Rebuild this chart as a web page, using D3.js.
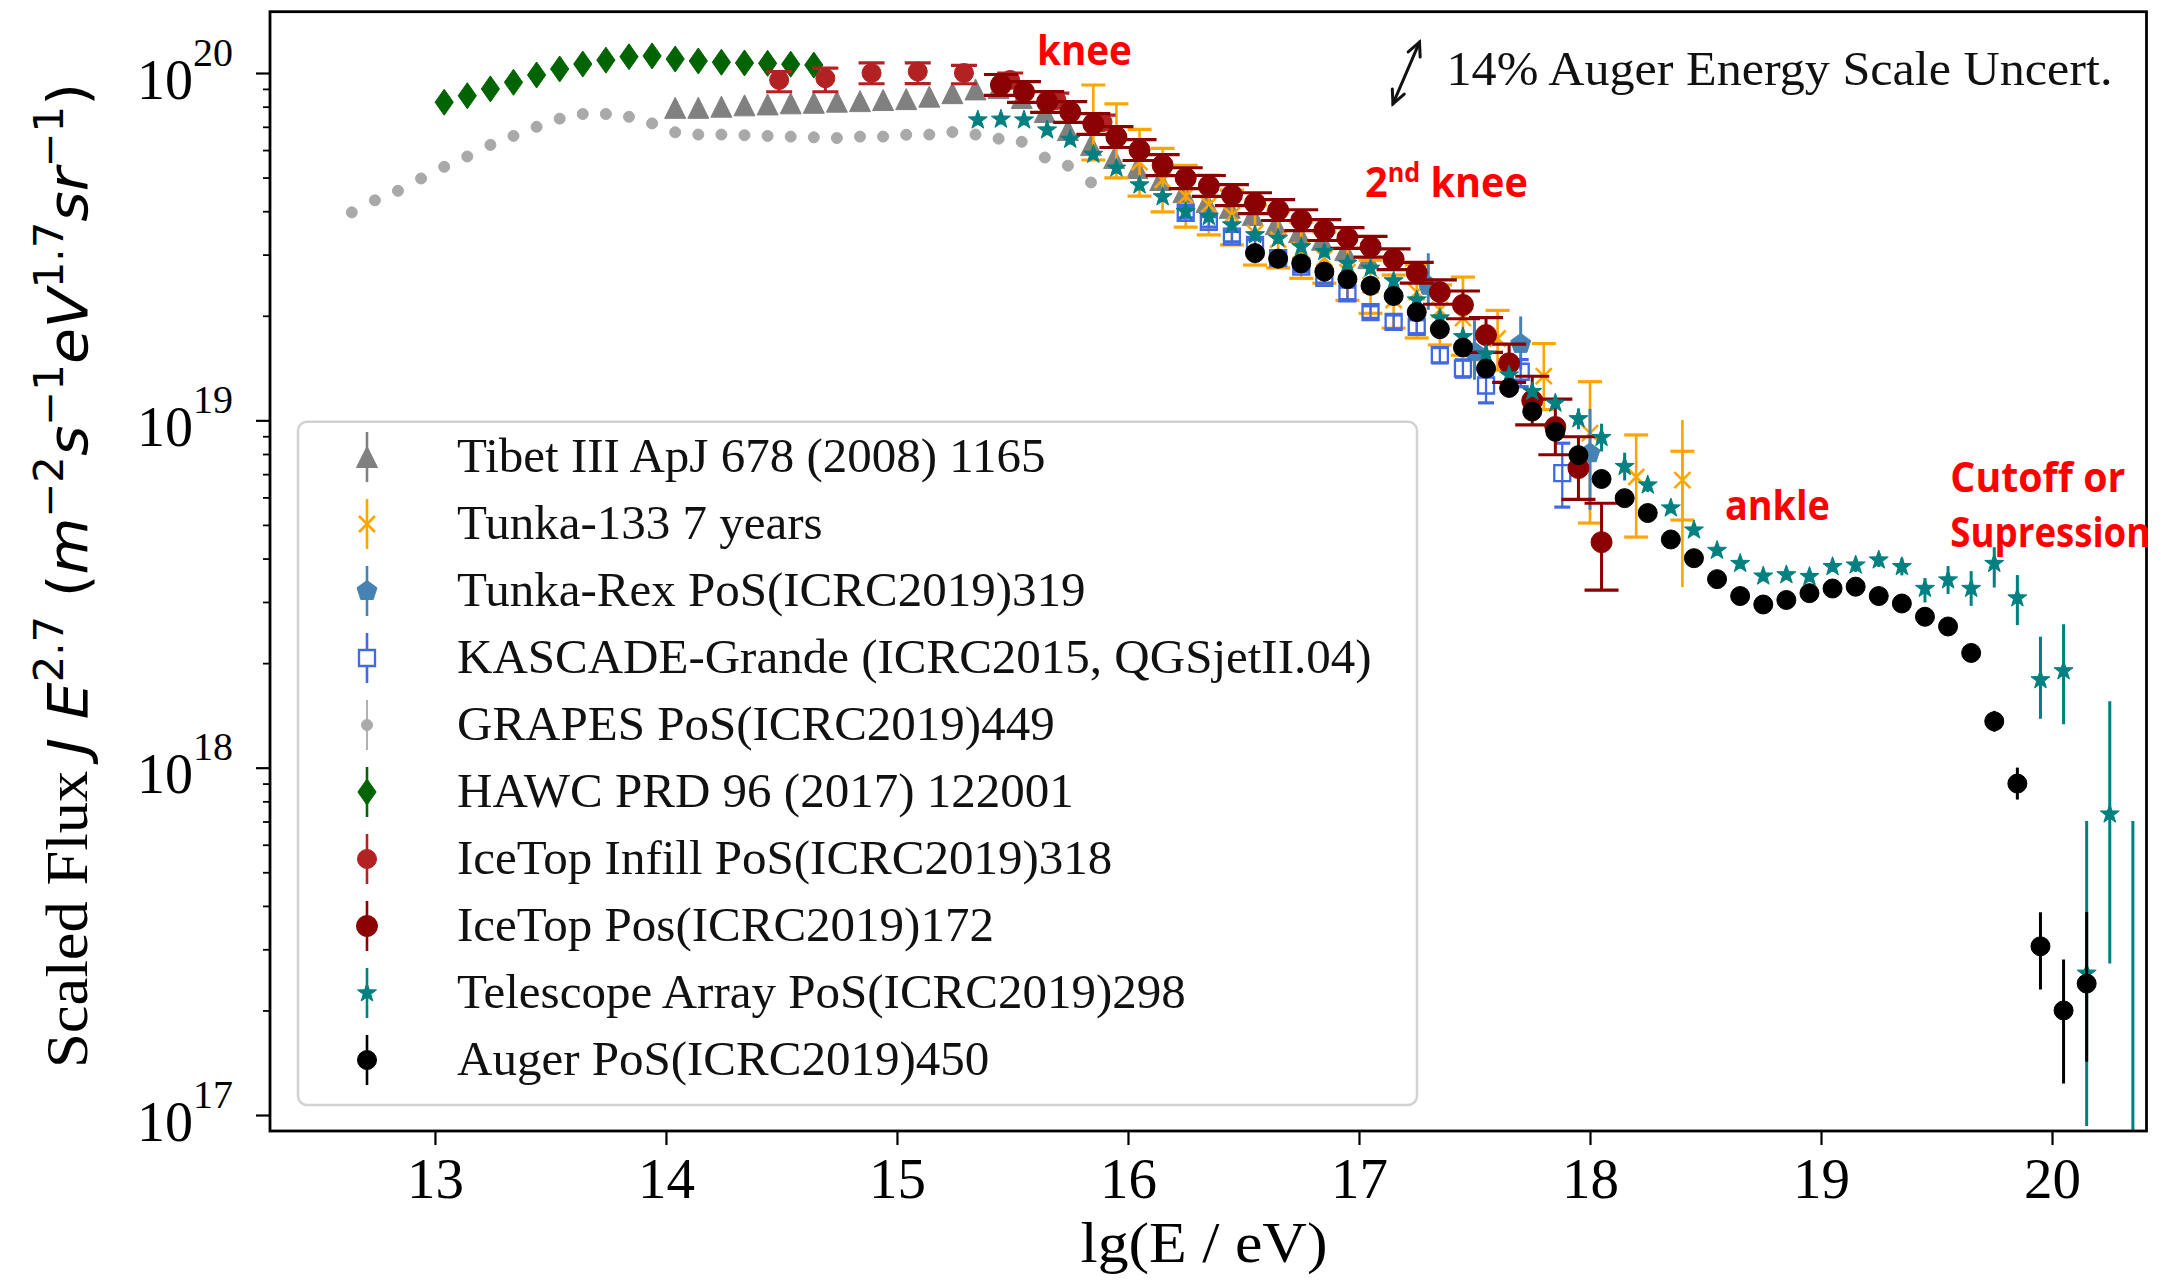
<!DOCTYPE html>
<html>
<head>
<meta charset="utf-8">
<script src="https://cdn.jsdelivr.net/npm/d3@7"></script>
<style>
html,body{margin:0;padding:0;background:#fff;}
svg{display:block;}
</style>
</head>
<body>
<svg id="chart" width="2167" height="1282"></svg>
<script>
// ---------------- tick values ----------------
const xTickValues = [13, 14, 15, 16, 17, 18, 19, 20];
const yMajorExponents = [17, 18, 19, 20];

// ---------------- legend labels ----------------
const legendLabels = [
  "Tibet III ApJ 678 (2008) 1165",
  "Tunka-133 7 years",
  "Tunka-Rex PoS(ICRC2019)319",
  "KASCADE-Grande (ICRC2015, QGSjetII.04)",
  "GRAPES PoS(ICRC2019)449",
  "HAWC PRD 96 (2017) 122001",
  "IceTop Infill PoS(ICRC2019)318",
  "IceTop Pos(ICRC2019)172",
  "Telescope Array PoS(ICRC2019)298",
  "Auger PoS(ICRC2019)450"
];

// ---------------- data: lg(E/eV), scaled flux, error up / down in dex ----------------
const tibetE = [14.04,14.14,14.24,14.34,14.44,14.54,14.64,14.74,14.84,14.94,15.04,15.14,15.24,15.34,15.44,15.54,15.64,15.74,15.84,15.94,16.04,16.14,16.24,16.34,16.44,16.54,16.64,16.74,16.84,16.94,17.04];
const tibetF = [7.94e19,7.94e19,8.00e19,8.07e19,8.12e19,8.18e19,8.21e19,8.27e19,8.30e19,8.36e19,8.41e19,8.55e19,8.75e19,8.97e19,9.05e19,8.47e19,7.72e19,6.85e19,6.20e19,5.69e19,5.33e19,4.92e19,4.54e19,4.25e19,4.09e19,3.90e19,3.67e19,3.48e19,3.31e19,3.09e19,2.93e19];

const tunka133E = [15.85,15.95,16.05,16.15,16.25,16.35,16.45,16.55,16.65,16.75,16.85,16.95,17.05,17.15,17.25,17.35,17.45,17.6,17.8,18.0,18.2,18.4];
const tunka133F = [7.32e19,6.41e19,5.54e19,4.92e19,4.42e19,4.17e19,3.90e19,3.46e19,3.31e19,3.09e19,2.93e19,2.67e19,2.45e19,2.22e19,2.34e19,2.08e19,1.97e19,1.72e19,1.34e19,9.19e18,6.87e18,6.73e18];
const tunka133Up = [0.101,0.104,0.094,0.091,0.089,0.086,0.072,0.081,0.081,0.081,0.075,0.069,0.072,0.072,0.078,0.072,0.118,0.081,0.094,0.148,0.121,0.083];
const tunka133Dn = [0.115,0.109,0.098,0.092,0.089,0.086,0.086,0.092,0.081,0.081,0.072,0.081,0.081,0.081,0.132,0.101,0.107,0.091,0.096,0.259,0.173,0.115];
const tunka133WideE = [18.4];
const tunka133WideF = [6.73e18];
const tunka133WideUp = [0.173];
const tunka133WideDn = [0.308];

const tunkaRexE = [17.3,17.5,17.7,18.0];
const tunkaRexF = [2.44e19,1.57e19,1.66e19,8.04e18];
const tunkaRexUp = [0.094,0.092,0.079,0.128];
const tunkaRexDn = [0.069,0.079,0.074,0.163];

const kascadeE = [16.25,16.35,16.45,16.55,16.65,16.75,16.85,16.95,17.05,17.15,17.25,17.35,17.45,17.55,17.70,17.88];
const kascadeF = [3.96e19,3.73e19,3.38e19,3.20e19,2.93e19,2.77e19,2.57e19,2.32e19,2.05e19,1.92e19,1.86e19,1.54e19,1.41e19,1.26e19,1.38e19,7.05e18];
const kascadeUp = [0.015,0.015,0.015,0.015,0.015,0.015,0.015,0.018,0.018,0.02,0.02,0.022,0.025,0.03,0.035,0.086];
const kascadeDn = [0.015,0.015,0.015,0.015,0.015,0.015,0.015,0.018,0.018,0.02,0.02,0.022,0.025,0.05,0.043,0.098];

const grapesE = [12.64,12.74,12.84,12.94,13.04,13.14,13.24,13.34,13.44,13.54,13.64,13.74,13.84,13.94,14.04,14.14,14.24,14.34,14.44,14.54,14.64,14.74,14.84,14.94,15.04,15.14,15.24,15.34,15.44,15.54,15.64,15.74,15.84];
const grapesF = [3.97e19,4.30e19,4.58e19,4.97e19,5.37e19,5.75e19,6.21e19,6.59e19,7.00e19,7.39e19,7.62e19,7.62e19,7.48e19,7.16e19,6.75e19,6.65e19,6.65e19,6.62e19,6.59e19,6.56e19,6.53e19,6.50e19,6.56e19,6.56e19,6.64e19,6.65e19,6.76e19,6.65e19,6.47e19,6.34e19,5.71e19,5.41e19,4.84e19];

const hawcE = [13.04,13.14,13.24,13.34,13.44,13.54,13.64,13.74,13.84,13.94,14.04,14.14,14.24,14.34,14.44,14.54,14.64];
const hawcF = [8.24e19,8.60e19,9.00e19,9.40e19,9.87e19,1.027e20,1.061e20,1.089e20,1.114e20,1.12e20,1.097e20,1.083e20,1.074e20,1.069e20,1.066e20,1.06e20,1.054e20];

const infillE = [14.49,14.69,14.89,15.09,15.29,15.49,15.69,15.89];
const infillF = [9.55e19,9.66e19,1.00e20,1.01e20,1.00e20,9.55e19,8.36e19,7.22e19];
const infillUp = [0.024,0.029,0.029,0.025,0.022,0.02,0.02,0.02];
const infillDn = [0.034,0.039,0.031,0.035,0.031,0.02,0.02,0.02];

const icetopE = [15.45,15.55,15.65,15.75,15.85,15.95,16.05,16.15,16.25,16.35,16.45,16.55,16.65,16.75,16.85,16.95,17.05,17.15,17.25,17.35,17.45,17.55,17.65,17.75,17.85,17.95,18.05];
const icetopF = [9.24e19,8.82e19,8.25e19,7.72e19,7.13e19,6.54e19,6.00e19,5.43e19,4.98e19,4.73e19,4.45e19,4.22e19,4.03e19,3.77e19,3.53e19,3.35e19,3.16e19,2.91e19,2.66e19,2.34e19,2.15e19,1.76e19,1.46e19,1.14e19,9.57e18,7.29e18,4.46e18];
const icetopUp = [0.03,0.03,0.03,0.03,0.03,0.03,0.03,0.03,0.03,0.03,0.03,0.03,0.03,0.03,0.03,0.03,0.03,0.03,0.03,0.035,0.04,0.05,0.055,0.07,0.08,0.09,0.112];
const icetopDn = [0.03,0.03,0.03,0.03,0.03,0.03,0.03,0.03,0.03,0.03,0.03,0.03,0.03,0.03,0.03,0.03,0.03,0.03,0.03,0.035,0.04,0.05,0.055,0.07,0.08,0.09,0.138];

const taE = [15.35,15.45,15.55,15.65,15.75,15.85,15.95,16.05,16.15,16.25,16.35,16.45,16.55,16.65,16.75,16.85,16.95,17.05,17.15,17.25,17.35,17.45,17.55,17.65,17.75,17.85,17.95,18.05,18.15,18.25,18.35,18.45,18.55,18.65,18.75,18.85,18.95,19.05,19.15,19.25,19.35,19.45,19.55,19.65,19.75,19.85,19.95,20.05,20.15,20.25,20.35];
const taF = [7.32e19,7.36e19,7.32e19,6.85e19,6.44e19,5.83e19,5.32e19,4.76e19,4.40e19,3.99e19,3.86e19,3.65e19,3.42e19,3.34e19,3.16e19,3.06e19,2.83e19,2.74e19,2.52e19,2.22e19,1.97e19,1.74e19,1.55e19,1.35e19,1.21e19,1.12e19,1.01e19,8.92e18,7.36e18,6.51e18,5.59e18,4.83e18,4.22e18,3.87e18,3.56e18,3.59e18,3.55e18,3.79e18,3.83e18,3.96e18,3.79e18,3.28e18,3.47e18,3.28e18,3.87e18,3.08e18,1.79e18,1.90e18,2.56e17,7.35e17,6.0e16];
const taUp = [0.015,0.015,0.015,0.015,0.015,0.015,0.015,0.015,0.015,0.015,0.015,0.015,0.015,0.015,0.015,0.015,0.015,0.015,0.015,0.015,0.015,0.015,0.015,0.015,0.015,0.015,0.03,0.04,0.04,0.02,0.015,0.015,0.015,0.015,0.015,0.015,0.015,0.015,0.02,0.02,0.025,0.03,0.04,0.05,0.047,0.066,0.124,0.134,0.438,0.325,1.068];
const taDn = [0.015,0.015,0.015,0.015,0.015,0.015,0.015,0.015,0.015,0.015,0.015,0.015,0.015,0.015,0.015,0.015,0.015,0.015,0.015,0.015,0.015,0.015,0.015,0.015,0.015,0.015,0.03,0.04,0.04,0.02,0.015,0.015,0.015,0.015,0.015,0.015,0.015,0.015,0.02,0.02,0.025,0.04,0.04,0.05,0.069,0.078,0.112,0.154,0.44,0.43,0.5];

const augerE = [16.55,16.65,16.75,16.85,16.95,17.05,17.15,17.25,17.35,17.45,17.55,17.65,17.75,17.85,17.95,18.05,18.15,18.25,18.35,18.45,18.55,18.65,18.75,18.85,18.95,19.05,19.15,19.25,19.35,19.45,19.55,19.65,19.75,19.85,19.95,20.05,20.15];
const augerF = [3.03e19,2.92e19,2.83e19,2.68e19,2.55e19,2.44e19,2.28e19,2.05e19,1.83e19,1.62e19,1.41e19,1.24e19,1.06e19,9.27e18,7.94e18,6.78e18,5.97e18,5.41e18,4.54e18,4.01e18,3.49e18,3.12e18,2.95e18,3.04e18,3.18e18,3.28e18,3.32e18,3.12e18,2.97e18,2.72e18,2.55e18,2.14e18,1.36e18,9.0e17,3.06e17,2.0e17,2.39e17];
const augerUp = [0.01,0.01,0.01,0.01,0.01,0.01,0.01,0.01,0.01,0.01,0.01,0.01,0.01,0.01,0.01,0.01,0.01,0.01,0.01,0.01,0.01,0.01,0.01,0.01,0.01,0.01,0.01,0.01,0.01,0.01,0.01,0.015,0.03,0.046,0.098,0.147,0.206];
const augerDn = [0.01,0.01,0.01,0.01,0.01,0.01,0.01,0.01,0.01,0.01,0.01,0.01,0.01,0.01,0.01,0.01,0.01,0.01,0.01,0.01,0.01,0.01,0.01,0.01,0.01,0.01,0.01,0.01,0.01,0.01,0.01,0.015,0.03,0.046,0.124,0.21,0.225];

// ---------------- layout ----------------
const svg = d3.select("#chart");
const M = {left: 270, right: 2146.5, top: 11.7, bottom: 1131};
const x = d3.scaleLinear().domain([12.286, 20.409]).range([M.left, M.right]);
const y = d3.scaleLog().domain([Math.pow(10, 16.954), Math.pow(10, 20.1765)]).range([M.bottom, M.top]);

const SERIF = "'Liberation Serif','Times New Roman',serif";
const MATH = "'DejaVu Sans',sans-serif";
const ANNOT = "'Open Sans','Liberation Sans',sans-serif";

svg.append("rect").attr("width", 2167).attr("height", 1282).attr("fill", "#fff");
svg.append("defs").append("clipPath").attr("id", "plotclip").append("rect")
  .attr("x", M.left).attr("y", M.top).attr("width", M.right - M.left).attr("height", M.bottom - M.top);

// marker shapes (size parameter = radius in px)
function poly(c, pts) { pts.forEach((p, i) => i ? c.lineTo(p[0], p[1]) : c.moveTo(p[0], p[1])); c.closePath(); }
const symbols = {
  circle: {draw(c, r) { c.moveTo(r, 0); c.arc(0, 0, r, 0, 2 * Math.PI); c.closePath(); }},
  triangle: {draw(c, r) { poly(c, [[0, -r], [r, r], [-r, r]]); }},
  thinDiamond: {draw(c, r) { poly(c, [[0, -r], [0.7 * r, 0], [0, r], [-0.7 * r, 0]]); }},
  square: {draw(c, r) { poly(c, [[-r, -r], [r, -r], [r, r], [-r, r]]); }},
  star: {draw(c, r) {
    const pts = [];
    for (let i = 0; i < 10; i++) { const a = -Math.PI / 2 + i * Math.PI / 5; const rr = i % 2 ? r * 0.4 : r; pts.push([rr * Math.cos(a), rr * Math.sin(a)]); }
    poly(c, pts);
  }},
  pentagon: {draw(c, r) {
    const pts = [];
    for (let i = 0; i < 5; i++) { const a = -Math.PI / 2 + i * 2 * Math.PI / 5; pts.push([r * Math.cos(a), r * Math.sin(a)]); }
    poly(c, pts);
  }},
  times: {draw(c, r) { c.moveTo(-r, -r); c.lineTo(r, r); c.moveTo(r, -r); c.lineTo(-r, r); }}
};

const series = [
  {name: legendLabels[0], E: tibetE, F: tibetF, color: "#808080", sym: "triangle", r: 10.5, fill: true},
  {name: legendLabels[1], E: tunka133E, F: tunka133F, up: tunka133Up, dn: tunka133Dn, color: "#ffa500", sym: "times", r: 8, fill: false, mw: 2.6, ew: 2.6, cap: 12},
  {name: legendLabels[2], E: tunkaRexE, F: tunkaRexF, up: tunkaRexUp, dn: tunkaRexDn, color: "#4682b4", sym: "pentagon", r: 10.5, fill: true, ew: 3},
  {name: legendLabels[3], E: kascadeE, F: kascadeF, up: kascadeUp, dn: kascadeDn, color: "#4169e1", sym: "square", r: 8, fill: false, mw: 2.3, ew: 2.3, cap: 8},
  {name: legendLabels[4], E: grapesE, F: grapesF, color: "#a9a9a9", sym: "circle", r: 5.5, fill: true},
  {name: legendLabels[5], E: hawcE, F: hawcF, color: "#006400", sym: "thinDiamond", r: 13, fill: true},
  {name: legendLabels[6], E: infillE, F: infillF, up: infillUp, dn: infillDn, color: "#b22222", sym: "circle", r: 9.5, fill: true, ew: 3, cap: 13},
  {name: legendLabels[7], E: icetopE, F: icetopF, up: icetopUp, dn: icetopDn, color: "#8b0000", sym: "circle", r: 10.5, fill: true, ew: 3, cap: 17},
  {name: legendLabels[8], E: taE, F: taF, up: taUp, dn: taDn, color: "#008080", sym: "star", r: 10, fill: true, ew: 3},
  {name: legendLabels[9], E: augerE, F: augerF, up: augerUp, dn: augerDn, color: "#000000", sym: "circle", r: 9.5, fill: true, ew: 3}
];

// ---------------- data layer ----------------
const dataG = svg.append("g").attr("clip-path", "url(#plotclip)");

series.forEach((s, si) => {
  const g = dataG.append("g");
  const idx = d3.range(s.E.length);
  if (s.up) {
    g.selectAll("line.err").data(idx).join("line")
      .attr("x1", i => x(s.E[i])).attr("x2", i => x(s.E[i]))
      .attr("y1", i => y(s.F[i] * Math.pow(10, s.up[i])))
      .attr("y2", i => y(s.F[i] / Math.pow(10, s.dn[i])))
      .attr("stroke", s.color).attr("stroke-width", s.ew);
    if (s.cap) {
      const caps = [];
      idx.forEach(i => { caps.push({i, v: s.F[i] * Math.pow(10, s.up[i])}); caps.push({i, v: s.F[i] / Math.pow(10, s.dn[i])}); });
      g.selectAll("line.cap").data(caps).join("line")
        .attr("x1", d => x(s.E[d.i]) - s.cap).attr("x2", d => x(s.E[d.i]) + s.cap)
        .attr("y1", d => y(d.v)).attr("y2", d => y(d.v))
        .attr("stroke", s.color).attr("stroke-width", 3.2);
    }
  }
  if (si === 1) {
    g.selectAll("line.wide").data(d3.range(tunka133WideE.length)).join("line")
      .attr("x1", i => x(tunka133WideE[i])).attr("x2", i => x(tunka133WideE[i]))
      .attr("y1", i => y(tunka133WideF[i] * Math.pow(10, tunka133WideUp[i])))
      .attr("y2", i => y(tunka133WideF[i] / Math.pow(10, tunka133WideDn[i])))
      .attr("stroke", s.color).attr("stroke-width", 2.6);
  }
  g.selectAll("path.mk").data(idx).join("path")
    .attr("transform", i => `translate(${x(s.E[i])},${y(s.F[i])})`)
    .attr("d", d3.symbol().type(symbols[s.sym]).size(s.r))
    .attr("fill", s.fill ? s.color : "none")
    .attr("stroke", s.color)
    .attr("stroke-width", s.mw || 1);
});

// ---------------- axes ----------------
const xAxis = svg.append("g").attr("transform", `translate(0,${M.bottom})`)
  .call(d3.axisBottom(x).tickValues(xTickValues).tickSize(14).tickPadding(13).tickFormat(d3.format("d")));
xAxis.select(".domain").remove();
xAxis.selectAll(".tick line").attr("stroke", "#000").attr("stroke-width", 2.2);
xAxis.selectAll(".tick text").attr("font-family", SERIF).attr("font-size", 57).attr("fill", "#000");

const yMajor = yMajorExponents.map(e => Math.pow(10, e));
const yMinor = y.ticks().filter(v => v >= 1e17 && !yMajor.some(m => Math.abs(m - v) / m < 1e-6));
const yMinorAxis = svg.append("g").attr("transform", `translate(${M.left},0)`)
  .call(d3.axisLeft(y).tickValues(yMinor).tickSize(7).tickFormat(""));
yMinorAxis.select(".domain").remove();
yMinorAxis.selectAll(".tick line").attr("stroke", "#000").attr("stroke-width", 1.8);

const yAxis = svg.append("g").attr("transform", `translate(${M.left},0)`)
  .call(d3.axisLeft(y).tickValues(yMajor).tickSize(14).tickPadding(23));
yAxis.select(".domain").remove();
yAxis.selectAll(".tick line").attr("stroke", "#000").attr("stroke-width", 2.2);
yAxis.selectAll(".tick text").each(function(d) {
  const t = d3.select(this);
  t.text("").attr("dy", null).attr("y", 25).attr("font-family", SERIF).attr("fill", "#000");
  t.append("tspan").attr("font-size", 56).text("10");
  t.append("tspan").attr("font-size", 40).attr("dy", -33).text(String(Math.round(Math.log10(d))));
});

// frame
svg.append("rect").attr("x", M.left).attr("y", M.top)
  .attr("width", M.right - M.left).attr("height", M.bottom - M.top)
  .attr("fill", "none").attr("stroke", "#000").attr("stroke-width", 2.8);

// axis labels
svg.append("text").attr("x", 1204).attr("y", 1262).attr("text-anchor", "middle")
  .attr("font-family", SERIF).attr("font-size", 58).attr("fill", "#000")
  .attr("textLength", 247).attr("lengthAdjust", "spacingAndGlyphs")
  .text("lg(E / eV)");

const yl = svg.append("text").attr("transform", "translate(87,575.5) rotate(-90)")
  .attr("text-anchor", "middle").attr("fill", "#000")
  .attr("textLength", 985).attr("lengthAdjust", "spacingAndGlyphs");
const ylParts = [
  {t: "Scaled Flux ", f: SERIF, s: 60, it: false, dy: 0},
  {t: "J", f: MATH, s: 56, it: true, dy: 0},
  {t: " E", f: MATH, s: 56, it: true, dy: 0},
  {t: "2.7", f: MATH, s: 40, it: false, dy: -24},
  {t: " (", f: MATH, s: 56, it: false, dy: 24},
  {t: "m", f: MATH, s: 56, it: true, dy: 0},
  {t: "−2", f: MATH, s: 40, it: false, dy: -24},
  {t: "s", f: MATH, s: 56, it: true, dy: 24},
  {t: "−1", f: MATH, s: 40, it: false, dy: -24},
  {t: "eV", f: MATH, s: 56, it: true, dy: 24},
  {t: "1.7", f: MATH, s: 40, it: false, dy: -24},
  {t: "sr", f: MATH, s: 56, it: true, dy: 24},
  {t: "−1", f: MATH, s: 40, it: false, dy: -24},
  {t: ")", f: MATH, s: 56, it: false, dy: 24}
];
ylParts.forEach(p => {
  yl.append("tspan").attr("font-family", p.f).attr("font-size", p.s)
    .attr("font-style", p.it ? "italic" : "normal").attr("dy", p.dy).text(p.t);
});

// ---------------- legend ----------------
const lg = svg.append("g");
lg.append("rect").attr("x", 298).attr("y", 421.7).attr("width", 1119).attr("height", 683.3)
  .attr("rx", 9).attr("fill", "#fff").attr("fill-opacity", 0.8)
  .attr("stroke", "#d2d2d2").attr("stroke-width", 2.5);
series.forEach((s, i) => {
  const cy = 457 + i * 67;
  lg.append("line").attr("x1", 367).attr("x2", 367).attr("y1", cy - 25).attr("y2", cy + 25)
    .attr("stroke", s.color).attr("stroke-width", s.sym === "circle" && s.r < 6 ? 1.8 : 2.6);
  lg.append("path").attr("transform", `translate(367,${cy})`)
    .attr("d", d3.symbol().type(symbols[s.sym]).size(s.r))
    .attr("fill", s.fill ? s.color : "#fff").attr("stroke", s.color).attr("stroke-width", s.mw || 1);
  lg.append("text").attr("x", 457).attr("y", cy + 15)
    .attr("font-family", SERIF).attr("font-size", 49).attr("fill", "#111").text(s.name);
});

// ---------------- annotations (condensed bold red, scaled horizontally to target width) ----------------
function red(xv, yv, target, build) {
  const t = svg.append("text").attr("x", 0).attr("y", 0)
    .attr("font-family", ANNOT).attr("font-weight", "bold").attr("font-size", 41).attr("fill", "#ff0000");
  build(t);
  const w = t.node().getComputedTextLength();
  t.attr("transform", `translate(${x(xv)},${y(yv)}) scale(${target / w},1)`);
  return t;
}
red(15.606, Math.pow(10, 20.023), 95, t => t.text("knee"));
red(17.026, Math.pow(10, 19.643), 163, t => {
  t.append("tspan").attr("font-size", 41).text("2");
  t.append("tspan").attr("font-size", 26).attr("dy", -15).text("nd");
  t.append("tspan").attr("font-size", 41).attr("dy", 15).text(" knee");
});
red(18.584, Math.pow(10, 18.713), 105, t => t.text("ankle"));
red(19.56, Math.pow(10, 18.794), 175, t => t.text("Cutoff or"));
red(19.56, Math.pow(10, 18.636), 200, t => t.text("Supression"));

// energy-scale note with double arrow
svg.append("text").attr("x", x(17.379)).attr("y", y(Math.pow(10, 19.965)))
  .attr("font-family", SERIF).attr("font-size", 48).attr("fill", "#111")
  .attr("textLength", 666).attr("lengthAdjust", "spacingAndGlyphs")
  .text("14% Auger Energy Scale Uncert.");
const a1 = [x(17.262), y(Math.pow(10, 20.089))];
const a2 = [x(17.147), y(Math.pow(10, 19.911))];
const arrowG = svg.append("g").attr("stroke", "#111").attr("stroke-width", 3).attr("fill", "none").attr("stroke-linecap", "round");
arrowG.append("line").attr("x1", a1[0]).attr("y1", a1[1]).attr("x2", a2[0]).attr("y2", a2[1]);
function head(tip, from) {
  const ang = Math.atan2(from[1] - tip[1], from[0] - tip[0]);
  const L = 15, sp = 0.45;
  arrowG.append("path").attr("d",
    `M${tip[0] + L * Math.cos(ang - sp)},${tip[1] + L * Math.sin(ang - sp)}L${tip[0]},${tip[1]}L${tip[0] + L * Math.cos(ang + sp)},${tip[1] + L * Math.sin(ang + sp)}`);
}
head(a1, a2);
head(a2, a1);
</script>
</body>
</html>
